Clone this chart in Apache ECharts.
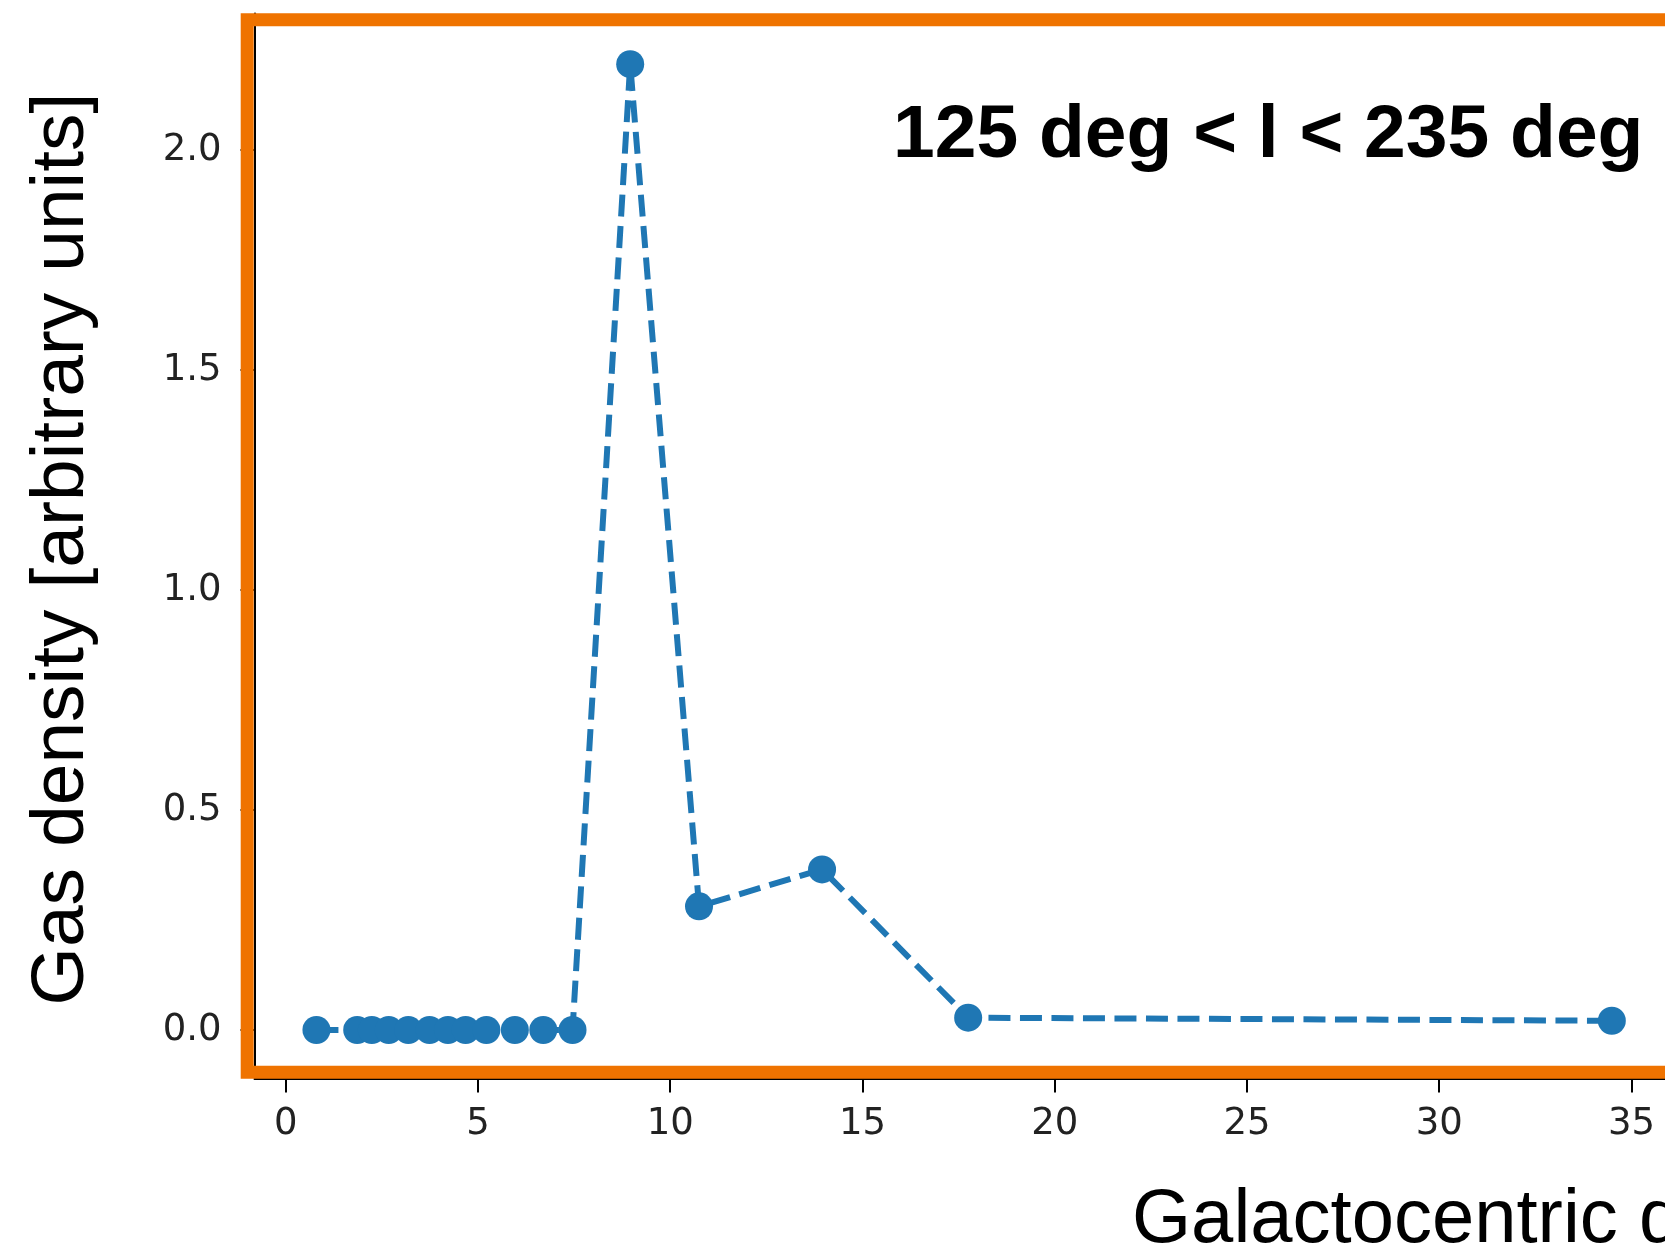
<!DOCTYPE html>
<html>
<head>
<meta charset="utf-8">
<script src="https://cdn.jsdelivr.net/npm/echarts@6/dist/echarts.min.js"></script>
<style>
  html, body { margin: 0; padding: 0; background: #ffffff; }
  #chart { width: 1665px; height: 1260px; }
</style>
</head>
<body>
<div id="chart"></div>
<script>
// Galactocentric radius [kpc] of each sampled ring
const radius = [0.80, 1.86, 2.24, 2.68, 3.19, 3.74, 4.22, 4.68, 5.22, 5.96, 6.70, 7.46,
                8.96, 10.75, 13.95, 17.75, 34.49];
// Gas density in each ring [arbitrary units]
const density = [0, 0, 0, 0, 0, 0, 0, 0, 0, 0, 0, 0,
                 2.195, 0.281, 0.365, 0.028, 0.021];

const xTicks = [0, 5, 10, 15, 20, 25, 30, 35];
const yTicks = [0, 0.5, 1.0, 1.5, 2.0];

const xTitle = 'Galactocentric distance [kpc]';
const yTitle = 'Gas density [arbitrary units]';
const regionLabel = '125 deg < l < 235 deg';

const points = radius.map((r, i) => [r, density[i]]);

const blue = '#1f77b4';
const orange = '#EF7300';
const tickFont = { fontFamily: 'DejaVu Sans', fontSize: 37, color: '#222222' };
const titleFont = '75px "Liberation Sans", Arial, Helvetica, sans-serif';

const chart = echarts.init(document.getElementById('chart'), null, { renderer: 'canvas' });

chart.setOption({
  animation: false,
  backgroundColor: '#ffffff',
  // the plot area runs past the right edge of the page
  grid: { left: 254.5, top: 13.6, right: 0, height: 1064.8 },
  xAxis: {
    type: 'value',
    min: -0.811,
    max: 35.873,
    axisLine: { show: true, onZero: false, lineStyle: { color: '#000', width: 2 } },
    axisTick: { show: true, length: 14, customValues: xTicks, lineStyle: { color: '#000', width: 2 } },
    axisLabel: Object.assign({ customValues: xTicks, margin: 27 }, tickFont),
    splitLine: { show: false }
  },
  yAxis: {
    type: 'value',
    min: -0.11,
    max: 2.31,
    axisLine: { show: true, onZero: false, lineStyle: { color: '#000', width: 2 } },
    axisTick: { show: true, length: 14, customValues: yTicks, lineStyle: { color: '#000', width: 2 } },
    axisLabel: Object.assign({
      customValues: yTicks,
      margin: 33,
      padding: [5, 0, 0, 0],
      formatter: v => v.toFixed(1)
    }, tickFont),
    splitLine: { show: false }
  },
  series: [{
    type: 'line',
    data: points,
    symbol: 'circle',
    symbolSize: 28,
    showSymbol: true,
    itemStyle: { color: blue },
    lineStyle: { color: blue, width: 6, type: [22, 9.5] },
    emphasis: { disabled: true },
    z: 5
  }],
  graphic: [
    {
      // orange frame around the plot area
      type: 'rect',
      z: 100,
      shape: { x: 247.2, y: 19.8, width: 1800, height: 1052.5 },
      style: { fill: 'none', stroke: orange, lineWidth: 13 }
    },
    {
      type: 'text',
      z: 101,
      x: 893,
      y: 136.5,
      style: {
        text: regionLabel,
        font: 'bold 75px "Liberation Sans", Arial, Helvetica, sans-serif',
        fill: '#000',
        align: 'left',
        verticalAlign: 'middle'
      }
    },
    {
      type: 'text',
      z: 101,
      x: 1132,
      y: 1221.5,
      style: {
        text: xTitle,
        font: '76px "Liberation Sans", Arial, Helvetica, sans-serif',
        fill: '#000',
        align: 'left',
        verticalAlign: 'middle'
      }
    },
    {
      type: 'text',
      z: 101,
      x: 62.5,
      y: 549,
      rotation: Math.PI / 2,
      style: {
        text: yTitle,
        font: titleFont,
        fill: '#000',
        align: 'center',
        verticalAlign: 'middle'
      }
    }
  ]
});
</script>
</body>
</html>
